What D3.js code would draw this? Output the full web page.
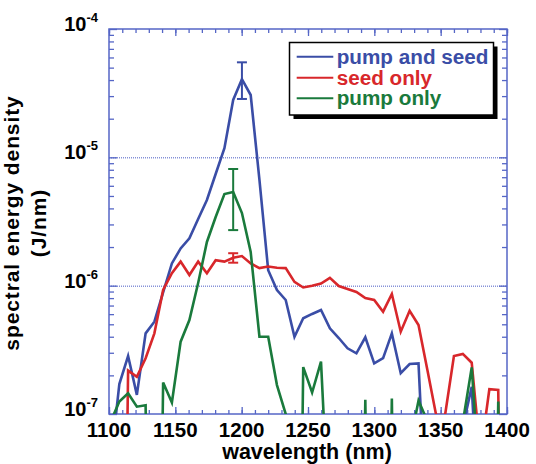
<!DOCTYPE html>
<html>
<head>
<meta charset="utf-8">
<script src="https://cdn.jsdelivr.net/npm/d3@7/dist/d3.min.js"></script>
<style>
  html, body { margin: 0; padding: 0; background: #fff; }
  svg { display: block; }
  text { font-family: "Liberation Sans", Arial, Helvetica, sans-serif; font-weight: bold; }
</style>
</head>
<body>
<svg id="chart" width="536" height="464"></svg>
<script>
// ---------- data ----------
const wavelengths = [1101.2, 1107.8, 1114.4, 1121.0, 1127.6, 1134.2, 1140.8, 1147.4, 1154.0, 1160.6,
  1167.2, 1173.8, 1180.4, 1187.0, 1193.6, 1200.2, 1206.8, 1213.4, 1220.0, 1226.6,
  1233.2, 1239.8, 1246.4, 1253.1, 1259.8, 1266.5, 1273.2, 1279.8, 1286.5, 1293.2,
  1299.9, 1306.6, 1313.2, 1319.9, 1326.6, 1333.3, 1340.0, 1346.6, 1353.3, 1360.0,
  1366.7, 1373.4, 1380.0, 1386.7, 1393.4, 1400.0];

const pumpAndSeed = [4.1e-8, 1.71e-7, 2.83e-7, 1.41e-7, 4.25e-7, 5.24e-7, 8.85e-7, 1.49e-6, 1.95e-6, 2.34e-6,
  3.31e-6, 4.65e-6, 7.41e-6, 1.18e-5, 2.80e-5, 4.06e-5, 3.06e-5, 6.66e-6, 1.32e-6, 9.25e-7,
  7.73e-7, 4.0e-7, 5.57e-7, 6.02e-7, 6.46e-7, 4.65e-7, 3.91e-7, 3.25e-7, 2.97e-7, 3.96e-7,
  2.48e-7, 2.72e-7, 4.25e-7, 2.08e-7, 2.45e-7, 2.48e-7, 9e-9, 1e-12, 1e-12, 1e-12,
  7.9e-8, 1.63e-7, 9.5e-9, 1e-12, 1e-12, 1e-12];

const seedOnly = [1e-12, 1e-12, 2.18e-7, 1.95e-7, 2.72e-7, 4.25e-7, 9.25e-7, 1.25e-6, 1.54e-6, 1.21e-6,
  1.54e-6, 1.25e-6, 1.58e-6, 1.54e-6, 1.65e-6, 1.70e-6, 1.49e-6, 1.37e-6, 1.41e-6, 1.38e-6,
  1.37e-6, 1.07e-6, 9.68e-7, 1.0e-6, 1.04e-6, 1.15e-6, 9.94e-7, 9.42e-7, 8.92e-7, 8.01e-7,
  7.73e-7, 6.27e-7, 8.61e-7, 4.38e-7, 6.38e-7, 4.94e-7, 2.2e-7, 9.8e-8, 9.8e-8, 2.83e-7,
  2.94e-7, 2.51e-7, 4.8e-8, 1.56e-7, 1.54e-7, 1e-12];

const pumpOnly = [8.7e-8, 1.25e-7, 1.45e-7, 1.14e-7, 1.17e-7, 1e-12, 1.76e-7, 1.23e-7, 3.66e-7, 5.40e-7,
  1.05e-6, 2.19e-6, 3.43e-6, 5.18e-6, 5.37e-6, 3.68e-6, 1.83e-6, 4.0e-7, 4.0e-7, 1.68e-7,
  1.0e-7, 1e-12, 2.32e-7, 1.47e-7, 2.56e-7, 1e-8, 1e-12, 1e-12, 1e-12, 1.29e-7,
  1e-12, 1e-12, 1.32e-7, 1e-12, 5.7e-8, 1.27e-7, 8.8e-8, 1e-12, 1e-12, 1e-12,
  8.6e-8, 2.31e-7, 2.3e-8, 1e-12, 1.25e-7, 1e-12];

const seriesNames = ["pump and seed", "seed only", "pump only"];
const seriesColors = ["#3a4da6", "#d8272b", "#1a7a3c"];

const errorSeries = [0, 2, 1];
const errorWavelengths = [1200.2, 1193.6, 1193.6];
const errorLow = [2.85e-5, 2.71e-6, 1.51e-6];
const errorHigh = [5.5e-5, 8.11e-6, 1.79e-6];

const xTickValues = [1100, 1150, 1200, 1250, 1300, 1350, 1400];
const yTickExponents = [-7, -6, -5, -4];
const gridExponents = [-6, -5];

const xTitle = "wavelength (nm)";
const yTitleLines = ["spectral energy density", "(J/nm)"];

// ---------- layout ----------
const svg = d3.select("#chart");
const L = 109, R = 507, T = 29, B = 414;
const frameColor = "#5566c6";

const x = d3.scaleLinear().domain([1100, 1400]).range([L, R]);
const y = d3.scaleLog().domain([1e-7, 1e-4]).range([B, T]);

const series = [pumpAndSeed, seedOnly, pumpOnly];

// clip
svg.append("defs").append("clipPath").attr("id", "plotclip")
  .append("rect").attr("x", L).attr("y", T).attr("width", R - L).attr("height", B - T);

// grid lines (dotted)
svg.append("g").selectAll("line").data(gridExponents).join("line")
  .attr("x1", L).attr("x2", R)
  .attr("y1", d => y(Math.pow(10, d)) + 0.5).attr("y2", d => y(Math.pow(10, d)) + 0.5)
  .attr("stroke", "#4a5cc4").attr("stroke-width", 1).attr("stroke-dasharray", "1,1");

// ticks: x minor every 10, major every 50
const xMinor = d3.range(1100, 1401, 10);
const yMinor = [];
[-7, -6, -5].forEach(e => { for (let k = 2; k <= 9; k++) yMinor.push(k * Math.pow(10, e)); });

const axB = d3.axisBottom(x).tickValues(xMinor).tickSize(-4).tickFormat("");
const axT = d3.axisTop(x).tickValues(xMinor).tickSize(-4).tickFormat("");
const axBM = d3.axisBottom(x).tickValues(xTickValues).tickSize(-7).tickFormat("");
const axTM = d3.axisTop(x).tickValues(xTickValues).tickSize(-7).tickFormat("");
const axL = d3.axisLeft(y).tickValues(yMinor).tickSize(-5).tickFormat("");
const axR = d3.axisRight(y).tickValues(yMinor).tickSize(-5).tickFormat("");
const majorY = yTickExponents.map(e => Math.pow(10, e));
const axLM = d3.axisLeft(y).tickValues(majorY).tickSize(-8).tickFormat("");
const axRM = d3.axisRight(y).tickValues(majorY).tickSize(-8).tickFormat("");

function styleAxis(g) {
  g.select(".domain").remove();
  g.selectAll("line").attr("stroke", frameColor).attr("stroke-width", 1.3);
}
svg.append("g").attr("transform", `translate(0,${B})`).call(axB).call(styleAxis);
svg.append("g").attr("transform", `translate(0,${T})`).call(axT).call(styleAxis);
svg.append("g").attr("transform", `translate(0,${B})`).call(axBM).call(styleAxis);
svg.append("g").attr("transform", `translate(0,${T})`).call(axTM).call(styleAxis);
svg.append("g").attr("transform", `translate(${L},0)`).call(axL).call(styleAxis);
svg.append("g").attr("transform", `translate(${R},0)`).call(axR).call(styleAxis);
svg.append("g").attr("transform", `translate(${L},0)`).call(axLM).call(styleAxis);
svg.append("g").attr("transform", `translate(${R},0)`).call(axRM).call(styleAxis);

// frame
svg.append("rect").attr("x", L).attr("y", T).attr("width", R - L).attr("height", B - T)
  .attr("fill", "none").attr("stroke", frameColor).attr("stroke-width", 1.5);

// lines
const line = d3.line().x(d => x(d[0])).y(d => y(d[1]));
const plot = svg.append("g").attr("clip-path", "url(#plotclip)");
series.forEach((vals, i) => {
  plot.append("path")
    .datum(wavelengths.map((w, j) => [w, vals[j]]))
    .attr("d", line)
    .attr("fill", "none")
    .attr("stroke", seriesColors[i])
    .attr("stroke-width", 2.6)
    .attr("stroke-linejoin", "miter");
});

// error bars
errorSeries.forEach((si, k) => {
  const g = svg.append("g").attr("stroke", seriesColors[si]).attr("stroke-width", 2);
  const cx = x(errorWavelengths[k]);
  g.append("line").attr("x1", cx).attr("x2", cx).attr("y1", y(errorLow[k])).attr("y2", y(errorHigh[k]));
  [errorLow[k], errorHigh[k]].forEach(v => {
    g.append("line").attr("x1", cx - 5).attr("x2", cx + 5).attr("y1", y(v)).attr("y2", y(v));
  });
});

// x tick labels
svg.append("g").selectAll("text").data(xTickValues).join("text")
  .attr("x", d => x(d)).attr("y", 437)
  .attr("text-anchor", "middle").attr("font-size", 20.5).attr("fill", "#000")
  .text(d => d);

// y tick labels
const yl = svg.append("g").selectAll("text").data(yTickExponents).join("text")
  .attr("x", 98).attr("y", d => y(Math.pow(10, d)) + 2)
  .attr("text-anchor", "end").attr("font-size", 20).attr("fill", "#000");
yl.append("tspan").text("10");
yl.append("tspan").attr("font-size", 13).attr("dy", -9).text(d => String(d));

// axis titles
svg.append("text").attr("x", 307).attr("y", 459)
  .attr("text-anchor", "middle").attr("font-size", 21.5).attr("fill", "#000").text(xTitle);

const yt = svg.append("g").attr("transform", "translate(0,223) rotate(-90)");
yt.append("text").attr("x", 0).attr("y", 19).attr("text-anchor", "middle")
  .attr("font-size", 21).attr("letter-spacing", 0.9).attr("fill", "#000").text(yTitleLines[0]);
yt.append("text").attr("x", 0).attr("y", 46).attr("text-anchor", "middle")
  .attr("font-size", 21).attr("letter-spacing", 0.9).attr("fill", "#000").text(yTitleLines[1]);

// legend
const lg = svg.append("g");
const lx = 289.5, ly = 42.5, lw = 204, lh = 72.5;
lg.append("rect").attr("x", lx + 4).attr("y", ly + 4).attr("width", lw).attr("height", lh).attr("fill", "#000");
lg.append("rect").attr("x", lx).attr("y", ly).attr("width", lw).attr("height", lh)
  .attr("fill", "#fff").attr("stroke", "#000").attr("stroke-width", 1.5);
const rowsY = [56.7, 77.7, 98.3];
seriesNames.forEach((name, i) => {
  lg.append("line").attr("x1", 296.7).attr("x2", 333.3).attr("y1", rowsY[i]).attr("y2", rowsY[i])
    .attr("stroke", seriesColors[i]).attr("stroke-width", 2);
  lg.append("text").attr("x", 336.7).attr("y", rowsY[i] + 7)
    .attr("font-size", 20.7).attr("fill", seriesColors[i]).text(name);
});
</script>
</body>
</html>
